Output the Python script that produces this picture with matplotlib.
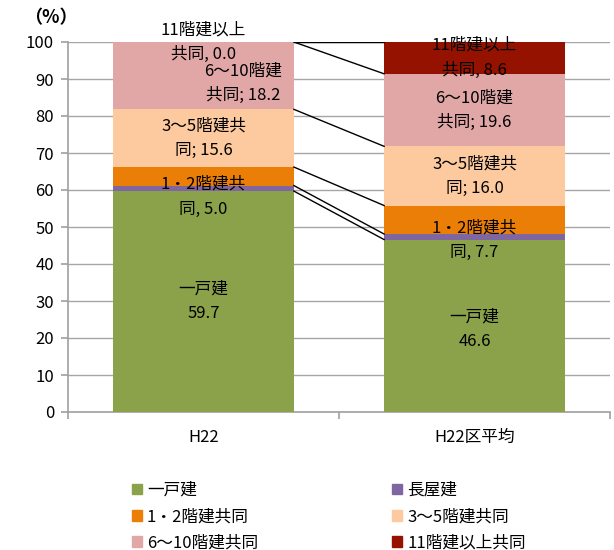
import matplotlib
matplotlib.use('Agg')
from matplotlib import pyplot as plt
from matplotlib.patches import Patch

plt.rcParams['font.family'] = ['Noto Sans CJK JP', 'DejaVu Sans']

# データ
categories = ['H22', 'H22区平均']
series_names = ['一戸建', '長屋建', '1・2階建共同', '3～5階建共同', '6～10階建共同', '11階建以上共同']
values_h22 = [59.7, 1.5, 5.0, 15.6, 18.2, 0.0]
values_avg = [46.6, 1.5, 7.7, 16.0, 19.6, 8.6]
colors = ['#8BA24B', '#8066A0', '#EB7E06', '#FCCA9E', '#E1A7A7', '#951200']

# ラベル(改行位置と区切り文字は元の図の通り)
label_heads = ['一戸建', None, '1・2階建共\n同', '3～5階建共\n同', '6～10階建\n共同', '11階建以上\n共同']
label_seps = [['\n', None, ', ', '; ', '; ', ', '],
              ['\n', None, ', ', '; ', '; ', ', ']]


def muestra_grafico():
    fig = plt.figure(figsize=(6.14, 5.5), dpi=100)
    ax = fig.add_axes([68 / 614, 1 - 412 / 550, 542 / 614, 370 / 550])
    width = 0.667
    data = [values_h22, values_avg]
    tops = []
    for j, vals in enumerate(data):
        bottom = 0
        t = []
        for i, v in enumerate(vals):
            ax.bar(j, v, width=width, bottom=bottom, color=colors[i], zorder=3)
            mid = bottom + v / 2
            bottom += v
            t.append(bottom)
            if label_heads[i] is None:
                continue
            # ラベル位置の微調整
            dx, dy = 0, 0
            if i == 2:
                dy = -5.5
            if j == 0 and i == 4:
                dx, dy = 0.145, -2.0
            if j == 1 and i == 0:
                dy = -1.0
            txt = label_heads[i] + label_seps[j][i] + f'{v:.1f}'
            ax.text(j + dx, mid + dy, txt, ha='center', va='center',
                    fontsize=12, linespacing=1.6, zorder=5)
        tops.append(t)

    # 系列線
    for i in range(len(series_names)):
        ax.plot([width / 2, 1 - width / 2], [tops[0][i], tops[1][i]],
                color='black', lw=1.0, zorder=4)

    ax.set_xlim(-0.5, 1.5)
    ax.set_ylim(0, 100)
    ax.set_yticks(range(0, 101, 10))
    ax.set_xticks([0, 1])
    ax.set_xticklabels(categories, fontsize=12)
    ax.set_xticks([-0.5, 0.5, 1.5], minor=True)
    ax.tick_params(axis='x', which='major', length=0, pad=12)
    ax.tick_params(axis='x', which='minor', length=5, color='#A0A0A0', width=1.2)
    ax.tick_params(axis='y', labelsize=12, length=5, color='#A0A0A0', width=1.2, pad=5)
    ax.grid(axis='y', color='#A6A6A6', lw=1.0, zorder=0)
    for s in ['top', 'right']:
        ax.spines[s].set_visible(False)
    for s in ['left', 'bottom']:
        ax.spines[s].set_color('#A0A0A0')
        ax.spines[s].set_linewidth(1.2)

    fig.text(24 / 614, 1 - 18 / 550, '（%）', fontsize=13, fontweight='bold',
             ha='left', va='center')

    order = [0, 2, 4, 1, 3, 5]
    handles = [Patch(color=colors[k], label=series_names[k]) for k in order]
    fig.legend(handles=handles, ncol=2, loc='upper left', bbox_to_anchor=(132 / 614, 1 - 482 / 550),
               frameon=False, fontsize=12, handlelength=0.6, handleheight=0.6,
               handletextpad=0.3, columnspacing=8.05, labelspacing=0.55,
               borderpad=0, borderaxespad=0)

    fig.savefig('out.png', dpi=100)


def main():
    muestra_grafico()


if __name__ == '__main__':
    main()
